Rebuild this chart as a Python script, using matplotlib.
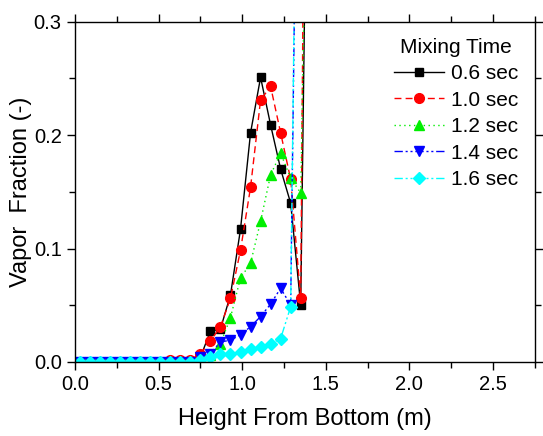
import matplotlib
matplotlib.use("Agg")
import matplotlib.pyplot as plt
from matplotlib.ticker import MultipleLocator

plt.rcParams['font.family'] = ['Liberation Sans', 'DejaVu Sans']

# sample heights along the column (m)
heights = [0.03, 0.09, 0.15, 0.21, 0.27, 0.33, 0.39, 0.45, 0.51, 0.57, 0.63, 0.69,
           0.75, 0.81, 0.87, 0.93, 0.99, 1.05, 1.11, 1.17, 1.23, 1.29, 1.35, 1.41]

# vapor fraction for each mixing time (last point runs off the top)
vf_06 = [0, 0, 0, 0, 0, 0, 0, 0, 0, 0, 0, 0,
         0.004, 0.027, 0.029, 0.059, 0.117, 0.202, 0.251, 0.209, 0.170, 0.140, 0.050, 0.73]
vf_10 = [0, 0, 0, 0, 0, 0, 0, 0, 0, 0.002, 0.002, 0.002,
         0.007, 0.0185, 0.031, 0.056, 0.0985, 0.154, 0.231, 0.243, 0.202, 0.161, 0.056, 1.2]
vf_12 = [0, 0, 0, 0, 0, 0, 0, 0, 0, 0, 0, 0,
         0.001, 0.006, 0.016, 0.039, 0.074, 0.087, 0.124, 0.165, 0.184, 0.162, 0.149, 0.65]
vf_14 = [0, 0, 0, 0, 0, 0, 0, 0, 0, 0, 0, 0,
         0.004, 0.007, 0.0177, 0.019, 0.024, 0.031, 0.040, 0.051, 0.065, 0.050, 0.75]
vf_16 = [0, 0, 0, 0, 0, 0, 0, 0, 0, 0, 0, 0,
         0.002, 0.0044, 0.0067, 0.0073, 0.0088, 0.011, 0.0132, 0.0156, 0.0206, 0.0486, 0.8]

labels = ['0.6 sec', '1.0 sec', '1.2 sec', '1.4 sec', '1.6 sec']

fig = plt.figure(figsize=(5.43, 4.36), dpi=100)
ax = fig.add_axes([0.138, 0.170, 0.847, 0.780])

styles = [
    (vf_06, 'black', '-', 's', 6),
    (vf_10, 'red', (0, (5, 3)), 'o', 7),
    (vf_12, '#00ee00', (0, (1, 2.5)), '^', 7.5),
    (vf_14, 'blue', (0, (6, 2, 1.5, 2, 1.5, 2)), 'v', 7.5),
    (vf_16, 'cyan', (0, (6, 2, 1.5, 2, 1.5, 2)), 'D', 6),
]
for (vals, col, ls, mk, ms), lab in zip(styles, labels):
    ax.plot(heights[:len(vals)], vals, color=col, linestyle=ls, lw=1.0,
            marker=mk, markersize=ms, markeredgecolor=col, label=lab)

ax.set_xlim(0, 2.75)
ax.set_ylim(0, 0.3)
ax.xaxis.set_major_locator(MultipleLocator(0.5))
ax.xaxis.set_minor_locator(MultipleLocator(0.25))
ax.yaxis.set_major_locator(MultipleLocator(0.1))
ax.yaxis.set_minor_locator(MultipleLocator(0.05))
ax.xaxis.set_major_formatter(plt.FormatStrFormatter('%.1f'))
ax.yaxis.set_major_formatter(plt.FormatStrFormatter('%.1f'))
ax.tick_params(which='both', direction='out', top=True, right=True, labelsize=14.5, width=1)
ax.tick_params(which='major', length=6)
ax.tick_params(which='minor', length=4)
for sp in ax.spines.values():
    sp.set_linewidth(1.0)

ax.set_xlabel('Height From Bottom (m)', fontsize=17, labelpad=10)
ax.set_ylabel('Vapor  Fraction (-)', fontsize=17, labelpad=1)

leg = ax.legend(title='Mixing Time', loc='upper right', bbox_to_anchor=(0.99, 0.99),
                frameon=False, fontsize=15, title_fontsize=15,
                handlelength=2.4, handletextpad=0.3, labelspacing=0.36,
                borderaxespad=0.2)

fig.savefig('out.png', dpi=100)
